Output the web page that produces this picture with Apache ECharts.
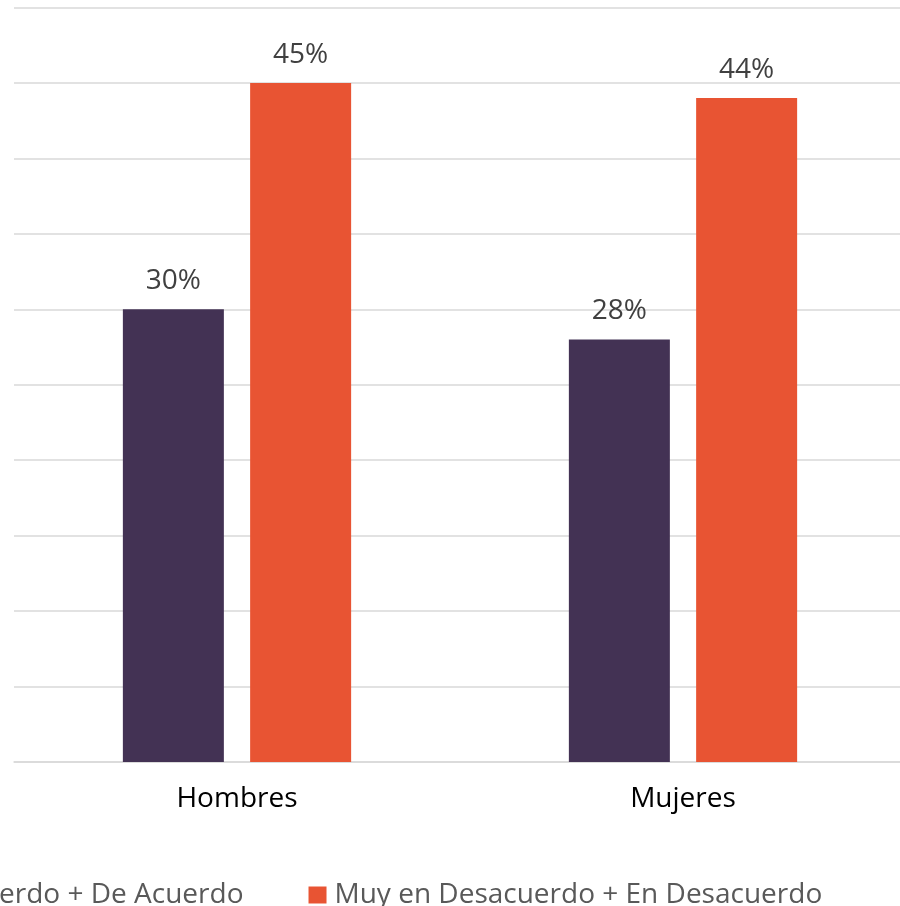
<!DOCTYPE html>
<html>
<head>
<meta charset="utf-8">
<script src="https://cdn.jsdelivr.net/npm/echarts@6/dist/echarts.min.js"></script>
<style>
html,body{margin:0;padding:0;background:#fff;}
#chart{width:900px;height:906px;}
</style>
</head>
<body>
<div id="chart"></div>
<script>
const categories = ['Hombres', 'Mujeres'];
const seriesNames = ['Muy de Acuerdo + De Acuerdo', 'Muy en Desacuerdo + En Desacuerdo'];
const acuerdo = [30, 28];
const desacuerdo = [45, 44];
const colors = ['#433254', '#E85433'];

const FONT = '"Open Sans", sans-serif';
const chart = echarts.init(document.getElementById('chart'), null, {renderer: 'canvas'});
const labelCfg = {
  show: true,
  position: 'top',
  distance: 14,
  formatter: p => p.value + '%',
  color: '#404040',
  fontFamily: FONT,
  fontSize: 28
};
chart.setOption({
  animation: false,
  backgroundColor: '#ffffff',
  color: colors,
  grid: {left: 14, width: 892, top: 7.5, bottom: 144, containLabel: false, outerBoundsMode: 'none'},
  xAxis: {
    type: 'category',
    data: categories,
    axisLine: {show: true, lineStyle: {color: '#d9d9d9', width: 1.5}},
    axisTick: {show: false},
    axisLabel: {color: '#000000', fontFamily: FONT, fontSize: 28, margin: 23}
  },
  yAxis: {
    type: 'value',
    min: 0,
    max: 50,
    interval: 5,
    axisLabel: {show: false},
    axisLine: {show: false},
    axisTick: {show: false},
    splitLine: {show: true, lineStyle: {color: '#d9d9d9', width: 1.5}}
  },
  legend: {
    data: seriesNames,
    left: -184,
    top: 876,
    icon: 'rect',
    itemWidth: 18,
    itemHeight: 17,
    itemGap: 65,
    textStyle: {color: '#595959', fontFamily: FONT, fontSize: 28, padding: [0, 0, 0, 3]}
  },
  series: [
    {name: seriesNames[0], type: 'bar', data: acuerdo, barWidth: 101, barGap: '26%', label: labelCfg},
    {name: seriesNames[1], type: 'bar', data: desacuerdo, barWidth: 101, barGap: '26%', label: labelCfg}
  ]
});
</script>
</body>
</html>
